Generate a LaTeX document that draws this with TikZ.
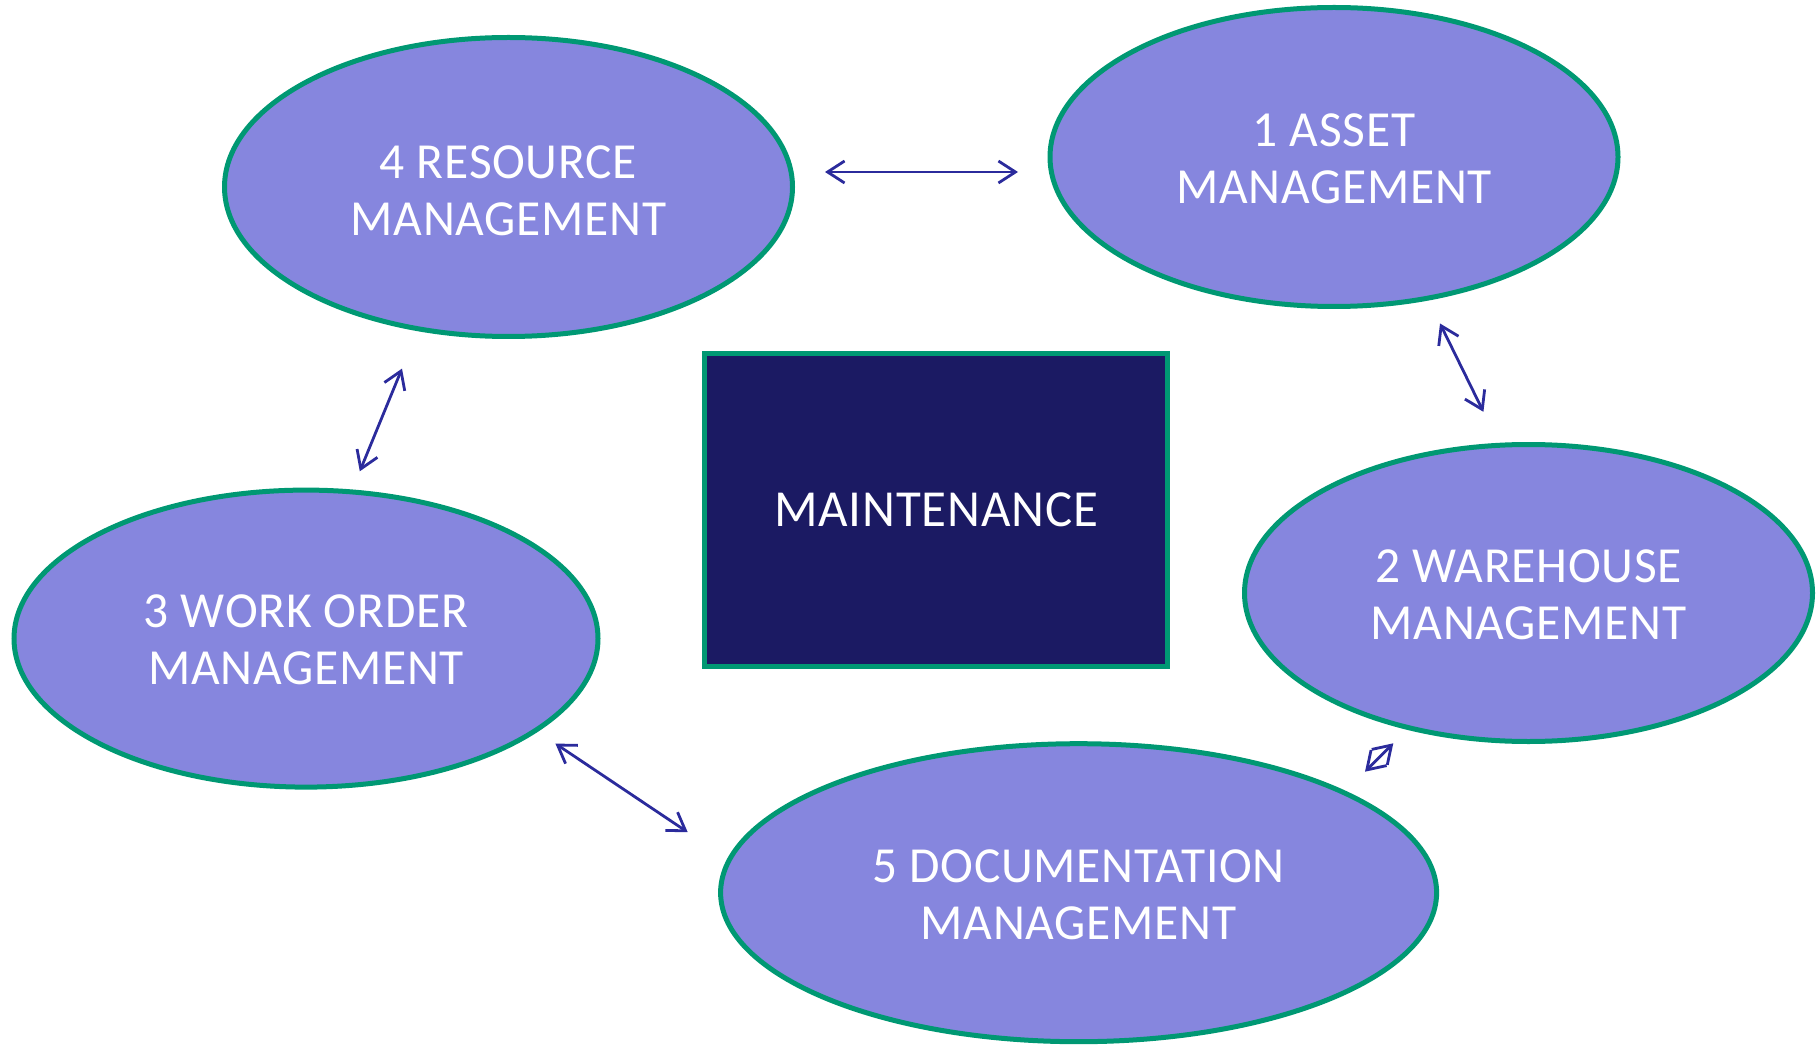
\documentclass[tikz,border=0pt]{standalone}
\usepackage{fontspec}
\setmainfont{Carlito}[FakeStretch=0.98,LetterSpace=1.5]
\usetikzlibrary{shapes.geometric,arrows.meta}
\definecolor{efill}{HTML}{8686DE}
\definecolor{egreen}{HTML}{009873}
\definecolor{navybox}{HTML}{1B1A63}
\definecolor{arrowc}{HTML}{2B2B9C}
\tikzset{
  module/.style={ellipse, draw=egreen, line width=5pt, fill=efill, inner sep=0pt},
  lbl/.style={text=white, align=center, inner sep=0pt, font=\fontsize{50.5}{57}\selectfont},
  core/.style={rectangle, draw=egreen, line width=5pt, fill=navybox, inner sep=0pt,
    text=white, font=\fontsize{52}{60}\selectfont,
    minimum width=463pt, minimum height=313pt},
  conn/.style={draw=arrowc, line width=2.8pt,
    {Straight Barb[length=17pt,width=22pt]}-{Straight Barb[length=17pt,width=22pt]}}
}
\begin{document}
\begin{tikzpicture}[x=1pt,y=-1pt]
\useasboundingbox (0,0) rectangle (1820,1048);
% modules
\node[module, minimum width=568pt, minimum height=299pt] (res) at (508.5,187) {};
\node[module, minimum width=568pt, minimum height=299pt] (ast) at (1334,157) {};
\node[module, minimum width=568pt, minimum height=297pt] (wh) at (1528.5,593) {};
\node[module, minimum width=584pt, minimum height=297pt] (wo) at (306,638.6) {};
\node[module, minimum width=716pt, minimum height=298pt] (doc) at (1078.6,892.7) {};
\node[lbl] (resT) at ([yshift=-3.5pt]res.center) {4 RESOURCE\\MANAGEMENT};
\node[lbl] (astT) at ([yshift=-2pt]ast.center) {1 ASSET\\MANAGEMENT};
\node[lbl] (whT) at ([yshift=-2pt]wh.center) {2 WAREHOUSE\\MANAGEMENT};
\node[lbl] (woT) at ([yshift=-1pt]wo.center) {3 WORK ORDER\\MANAGEMENT};
\node[lbl] (docT) at ([yshift=-2.5pt]doc.center) {5 DOCUMENTATION\\MANAGEMENT};
% core
\node[core] (mnt) at (936,510) {MAINTENANCE};
% connector end points
\coordinate (hA) at (825,172);
\coordinate (hB) at (1018,172);
\coordinate (vA) at (402,368.6);
\coordinate (vB) at (359.8,471.3);
\coordinate (wA) at (1440,323.5);
\coordinate (wB) at (1483.4,411.8);
\coordinate (dA) at (555.4,743.6);
\coordinate (dB) at (687.7,832.2);
\coordinate (sA) at (1393.3,743.3);
\coordinate (sB) at (1365,771.7);
% connectors
\draw[conn] (hA) -- (hB);
\draw[conn] (vA) -- (vB);
\draw[conn] (wA) -- (wB);
\draw[conn] (dA) -- (dB);
\draw[conn] (sA) -- (sB);
\end{tikzpicture}
\end{document}
